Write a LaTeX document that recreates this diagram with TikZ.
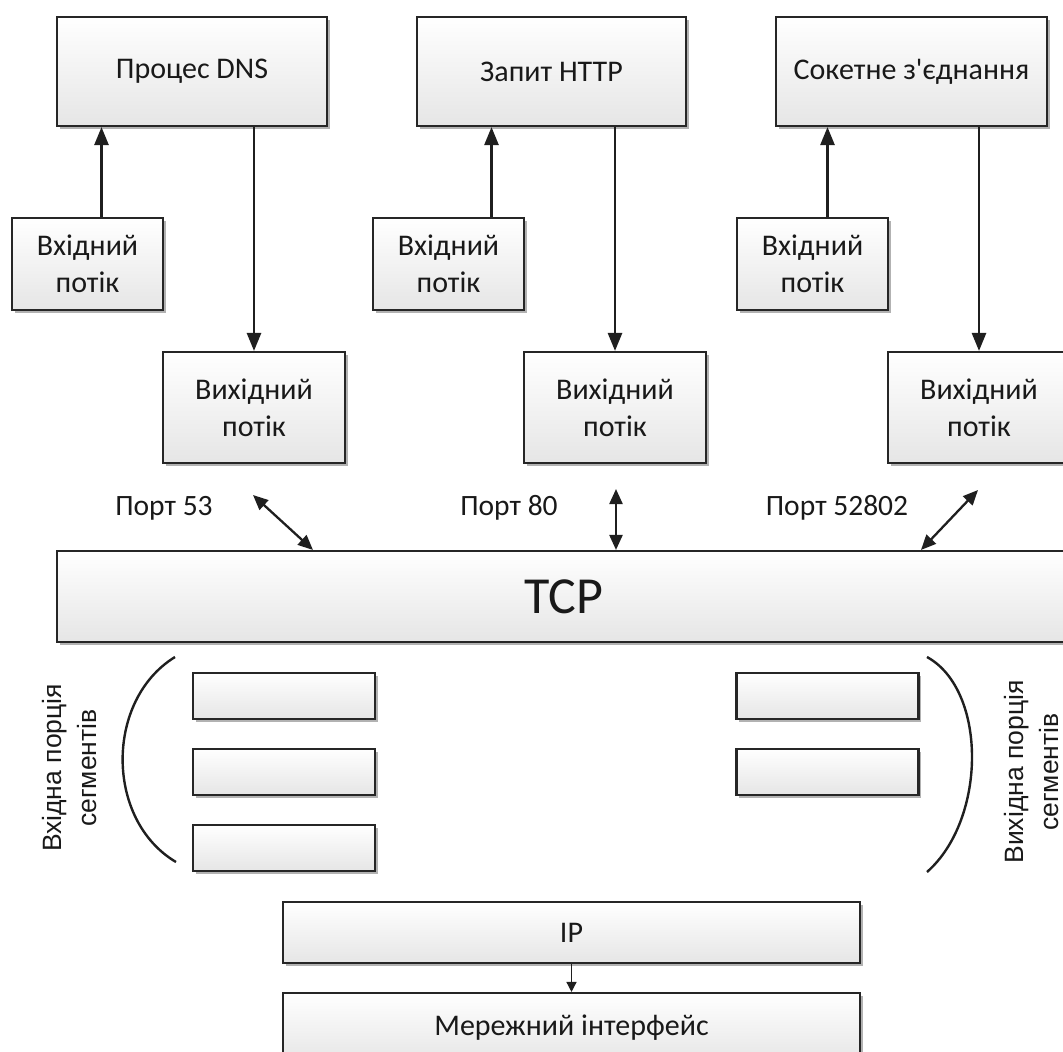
\documentclass[tikz,border=0pt]{standalone}
\usepackage{fontspec}
\setmainfont{Carlito}[Ligatures=TeXOff]
\newfontfamily\sidefont{Liberation Sans}
\usetikzlibrary{arrows.meta,shadows}

\tikzset{
  box/.style={draw=black!85, line width=2.1pt, top color=white, bottom color=black!10,
    drop shadow={shadow xshift=2.5pt, shadow yshift=-2.5pt, fill=black!55, opacity=0.55},
    align=center, text=black!90, inner sep=0pt,
    font=\fontsize{30}{37}\selectfont},
  seg/.style={box, minimum width=182pt, minimum height=46pt},
  lbl/.style={text=black!90, inner sep=0pt, font=\fontsize{29.5}{33}\selectfont},
  side/.style={text=black!90, inner sep=0pt, align=center, rotate=90,
    font=\sidefont\fontsize{26.5}{35}\selectfont},
  arr/.style={line width=2.6pt, draw=black!88, -{Triangle[length=18pt,width=14pt]}},
  darr/.style={line width=2.3pt, draw=black!88,
    {Triangle[length=15pt,width=13pt]}-{Triangle[length=15pt,width=13pt]}},
  thinarr/.style={line width=1.4pt, draw=black!88, -{Triangle[length=10pt,width=10pt]}},
  bracket/.style={line width=2.4pt, draw=black!88}
}

\begin{document}
\begin{tikzpicture}[x=1pt, y=-1pt]
\useasboundingbox (0,0) rectangle (1063,1052);
\clip (0,0) rectangle (1063,1052);

% application processes
\node[box, minimum width=270pt, minimum height=109pt] (dns)  at (192,71.5)   {Процес DNS};
\node[box, minimum width=269pt, minimum height=109pt] (http) at (551.5,71.5) {Запит HTTP};
\node[box, minimum width=271pt, minimum height=109pt] (sock) at (911.5,71.5) {Сокетне з'єднання};

% input streams
\node[box, minimum width=151pt, minimum height=92pt] (in1) at (87.5,264)  {Вхідний\\потік};
\node[box, minimum width=151pt, minimum height=92pt] (in2) at (448.5,264) {Вхідний\\потік};
\node[box, minimum width=151pt, minimum height=92pt] (in3) at (812.5,264) {Вхідний\\потік};

% output streams
\node[box, minimum width=182pt, minimum height=111pt] (out1) at (254,407.5) {Вихідний\\потік};
\node[box, minimum width=182pt, minimum height=111pt] (out2) at (615,407.5) {Вихідний\\потік};
\node[box, minimum width=182pt, minimum height=111pt] (out3) at (979,407.5) {Вихідний\\потік};

% streams to and from the processes
\draw[arr] ([xshift=14pt]in1.north) -- ([xshift=14pt]in1.north |- dns.south);
\draw[arr] ([xshift=43pt]in2.north) -- ([xshift=43pt]in2.north |- http.south);
\draw[arr] ([xshift=15pt]in3.north) -- ([xshift=15pt]in3.north |- sock.south);
\draw[arr] (dns.south -| out1.north) -- (out1.north);
\draw[arr] (http.south -| out2.north) -- (out2.north);
\draw[arr] (sock.south -| out3.north) -- (out3.north);

% transport layer
\node[box, minimum width=1014pt, minimum height=91pt, font=\fontsize{52}{60}\selectfont] (tcp) at (564,596.5) {TCP};

% ports
\node[lbl] (port1) at (164,508) {Порт 53};
\node[lbl] (port2) at (509,508) {Порт 80};
\node[lbl] (port3) at (837,508) {Порт 52802};
\coordinate (p1) at (253,495);
\coordinate (p2) at (616,489);
\coordinate (p3) at (978,490);
\draw[darr] (p1) -- ([xshift=-251pt]tcp.north);
\draw[darr] (p2) -- (p2 |- tcp.north);
\draw[darr] (p3) -- ([xshift=357pt]tcp.north);

% segment queues
\node[seg] (sa) at (284,696) {};
\node[seg] (sb) at (284,772) {};
\node[seg] (sc) at (284,848) {};
\node[seg] (sd) at (827.5,696) {};
\node[seg] (se) at (827.5,772) {};

\draw[bracket] (175,657) .. controls (105,700) and (105,820) .. (176,862);
\draw[bracket] (927,657) .. controls (987,690) and (987,819) .. (927,872);

\node[side] (inq)  at (70,768)   {Вхідна порція\\сегментів};
\node[side] (outq) at (1032,772) {Вихідна порція\\сегментів};

% lower layers
\node[box, minimum width=577pt, minimum height=61pt] (ip)  at (571.5,932.5) {IP};
\node[box, minimum width=577pt, minimum height=70pt] (net) at (571.5,1028)  {Мережний інтерфейс};
\draw[thinarr] (ip.south) -- (net.north);
\end{tikzpicture}
\end{document}
